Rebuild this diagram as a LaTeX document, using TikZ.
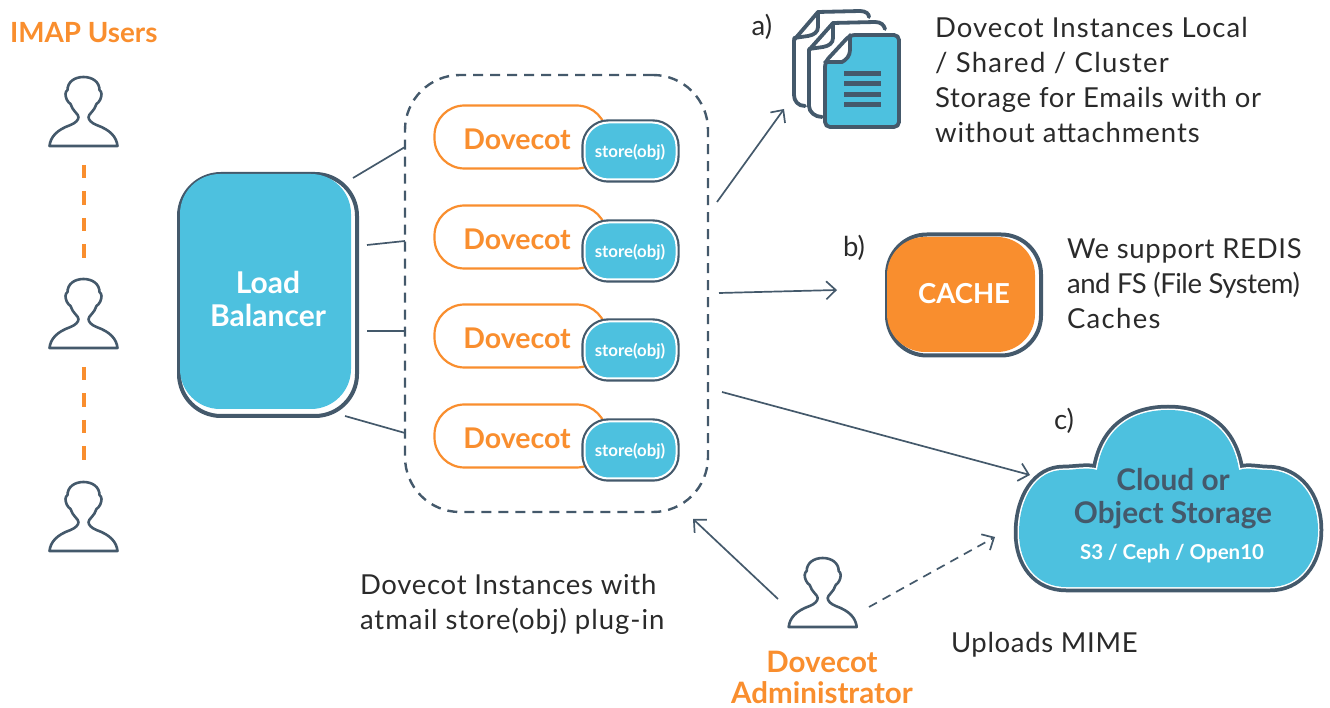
\documentclass[tikz,border=0pt]{standalone}
\usepackage{fontspec}
\setmainfont{Lato}
\usetikzlibrary{arrows.meta}
\definecolor{slate}{HTML}{44596B}
\definecolor{sky}{HTML}{4DC1DF}
\definecolor{tang}{HTML}{F98E2E}
\definecolor{ink}{HTML}{2A2A2A}
\newcommand{\lsp}[2]{{\addfontfeature{LetterSpace=#1}#2}}
\tikzset{
  x=1pt,y=1pt,
  every node/.style={inner sep=0pt,outer sep=0pt},
  conn/.style={draw=slate,line width=1.7pt},
  arr/.style={conn,-{Straight Barb[length=9.5pt,width=18pt,line width=1.7pt]}},
  body/.style={text=ink,align=left,anchor=west,font=\fontsize{27.5}{35}\selectfont},
  tag/.style={text=ink,font=\fontsize{27.5}{33}\selectfont},
  orangebold/.style={text=tang,align=center,font=\fontsize{29.5}{31}\selectfont\bfseries},
  whitebold/.style={text=white,align=center,font=\fontsize{30}{33}\selectfont\bfseries},
  dove/.style={draw=tang,line width=2.2pt,rounded corners=30pt,fill=white,minimum width=172pt,minimum height=63pt},
  doveword/.style={text=tang,font=\fontsize{28.5}{33}\selectfont\bfseries},
  storeouter/.style={draw=slate,line width=6.4pt,rounded corners=24pt,minimum width=92pt,minimum height=57pt},
  storewhite/.style={draw=white,line width=2pt,fill=sky,rounded corners=24pt,minimum width=92pt,minimum height=57pt},
  storeword/.style={text=white,font=\fontsize{16.8}{18}\selectfont\bfseries},
  userdash/.style={draw=tang,line width=4pt,dash pattern=on 13.5pt off 13pt},
  iconline/.style={draw=slate,line width=3.8pt,line cap=round,line join=round},
  person/.pic={
    \draw[slate,line width=2.6pt,line join=round]
      (-34,0) -- (34,0)
      .. controls (33,9) and (27,16) .. (13,21)
      .. controls (8,23) and (5,26) .. (5,29)
      .. controls (5,32) and (11,35) .. (13,42)
      .. controls (16,44) and (18,48) .. (18,52)
      .. controls (18,54) and (17,55) .. (16,56)
      .. controls (16,64) and (9,69) .. (0,69)
      .. controls (-9,69) and (-16,64) .. (-16,56)
      .. controls (-17,55) and (-18,54) .. (-18,52)
      .. controls (-18,48) and (-16,44) .. (-13,42)
      .. controls (-11,35) and (-5,32) .. (-5,29)
      .. controls (-5,26) and (-8,23) .. (-13,21)
      .. controls (-27,16) and (-33,9) .. (-34,0) -- cycle;
  }
}
\def\cloudpath{(1097,237) .. controls (1103,277) and (1130,297) .. (1168,297)
  .. controls (1206,297) and (1233,277) .. (1239,237)
  .. controls (1249,240) and (1258,237) .. (1267,237)
  .. controls (1298,237) and (1318,211) .. (1318,177)
  .. controls (1318,143) and (1298,120) .. (1270,120)
  -- (1066,120)
  .. controls (1037,120) and (1019,143) .. (1019,174)
  .. controls (1019,210) and (1037,237) .. (1063,237)
  .. controls (1075,237) and (1087,240) .. (1097,237) -- cycle}
\begin{document}
\begin{tikzpicture}
\useasboundingbox (0,0) rectangle (1330,707);

% users
\node[orangebold,font=\fontsize{27.8}{33}\selectfont\bfseries,anchor=west] (imap) at (10,674) {IMAP Users};
\pic at (83.5,561) {person};
\pic at (83.5,359) {person};
\pic at (83.5,156) {person};
\coordinate (u1a) at (83.5,542);
\coordinate (u1b) at (83.5,447);
\coordinate (u2a) at (83.5,340);
\coordinate (u2b) at (83.5,245);
\draw[userdash] (u1a) -- (u1b);
\draw[userdash] (u2a) -- (u2b);

% load balancer
\node[draw=slate,line width=4pt,rounded corners=42pt,minimum width=178pt,minimum height=242pt] (lb) at (268,412) {};
\fill[sky,rounded corners=40pt] (180,298) rectangle (351,533);
\node[whitebold] (lbt) at (268,408.5) {Load\\Balancer};

% dashed group
\node[draw=slate,line width=2.4pt,dash pattern=on 10pt off 7pt,rounded corners=55pt,minimum width=303pt,minimum height=437pt] (grp) at (556.5,413.5) {};

% dovecot rows
\foreach \n/\dy in {1/0,2/100,3/199,4/299}{
  \node[dove] (d\n) at (520.5,{570-\dy}) {};
  \node[storeouter] (so\n) at (630.5,{556-\dy}) {};
  \node[storewhite] (s\n) at (630.5,{556-\dy}) {};
  \node[doveword] (dw\n) at (517,{568-\dy}) {Dovecot};
  \node[storeword] (sw\n) at (630,{555-\dy}) {store(obj)};
}

% LB connectors
\coordinate (l1) at (353,529); \coordinate (g1) at (405,560);
\coordinate (l2) at (367,462); \coordinate (g2) at (405,466);
\coordinate (l3) at (367,376); \coordinate (g3) at (405,376);
\coordinate (l4) at (345,291); \coordinate (g4) at (405,274);
\draw[conn] (l1) -- (g1);
\draw[conn] (l2) -- (g2);
\draw[conn] (l3) -- (g3);
\draw[conn] (l4) -- (g4);

% documents icon
\draw[iconline] (805,601) .. controls (798,601) and (794,606) .. (794,612) -- (794,667) -- (818,695) -- (860,696) .. controls (866,696) and (869,693) .. (869,690);
\draw[iconline] (818,695) -- (818,680) .. controls (818,675) and (814,672) .. (808,671) -- (794,669);
\fill[white] (825,645) -- (850,672) -- (860,690) -- (885,680) -- (899,672) -- (899,580) -- (825,580) -- cycle;
\draw[iconline] (822,590) .. controls (815,590) and (809,595) .. (809,601) -- (809,657) -- (833,684) -- (875,685) .. controls (881,685) and (884,682) .. (885,678);
\draw[iconline] (833,684) -- (833,669) .. controls (833,664) and (829,661) .. (823,660) -- (809,658);
\fill[white,rounded corners=5pt] (825,645) -- (850,672) -- (899,672) -- (899,580) -- (825,580) -- cycle;
\fill[sky,rounded corners=5pt] (850,672) -- (899,672) -- (899,580) -- (826,580) -- (826,645) [sharp corners] -- (842,645) .. controls (846,647) and (850,651) .. (850,657) -- cycle;
\draw[iconline,rounded corners=5pt] (850,672) -- (899,672) -- (899,580) -- (825,580) -- (825,645) -- cycle;
\draw[iconline] (850,672) -- (850,657) .. controls (850,651) and (846,647) .. (842,645) -- (825,645);
\foreach \yy in {74,84,95,105}{\fill[slate] (844,{707-\yy-2.5}) rectangle (881,{707-\yy+2.5});}

% cache
\node[draw=slate,line width=4pt,rounded corners=40pt,minimum width=154pt,minimum height=121pt] (cacheo) at (964,412) {};
\fill[tang,rounded corners=38pt] (887,355) rectangle (1035,470);
\node[text=white,font=\fontsize{27.5}{33}\selectfont\bfseries] (cache) at (964,413) {CACHE};

% cloud
\path[draw=slate,line width=10.5pt,line join=round] \cloudpath;
\path[draw=white,line width=3pt,line join=round] \cloudpath;
\path[fill=sky] \cloudpath;
\node[text=slate,align=center,font=\fontsize{29.8}{33}\selectfont\bfseries] (cloudt) at (1173,208.5) {Cloud or\\Object Storage};
\node[text=white,font=\fontsize{20.5}{24}\selectfont\bfseries] (cloudsub) at (1172,153.5) {S3 / Ceph / Open10};

% admin
\pic at (822.7,80) {person};
\node[orangebold] (admin) at (822,30) {Dovecot\\Administrator};

% arrows
\coordinate (a1s) at (717,505); \coordinate (a1e) at (784,598);
\coordinate (a2s) at (719,414); \coordinate (a2e) at (837,417);
\coordinate (a3s) at (722,315); \coordinate (a3e) at (1030,232);
\coordinate (a4s) at (778,108); \coordinate (a4e) at (693,188);
\coordinate (a5s) at (869,100); \coordinate (a5e) at (995,170);
\draw[arr] (a1s) -- (a1e);
\draw[arr] (a2s) -- (a2e);
\draw[arr] (a3s) -- (a3e);
\draw[arr] (a4s) -- (a4e);
\draw[arr,dash pattern=on 9pt off 6.5pt] (a5s) -- (a5e);

% labels
\node[tag] (la) at (762,680) {a)};
\node[tag] (lb2) at (854,459) {b)};
\node[tag] (lc) at (1064,286) {c)};
\node[body] (ta) at (935,627) {\lsp{3.9}{Dovecot Instances Local}\\\lsp{4.8}{/ Shared / Cluster}\\\lsp{2.7}{Storage for Emails with or}\\\lsp{3.4}{without attachments}};
\node[body] (tb) at (1067,423.5) {\lsp{2.5}{We support REDIS}\\\lsp{-1.6}{and FS (File System)}\\\lsp{4.8}{Caches}};
\node[body] (td) at (360,102.5) {\lsp{2.6}{Dovecot Instances with}\\\lsp{3.5}{atmail store(obj) plug-in}};
\node[body] (tu) at (951,62) {\lsp{2.4}{Uploads MIME}};
\end{tikzpicture}
\end{document}
